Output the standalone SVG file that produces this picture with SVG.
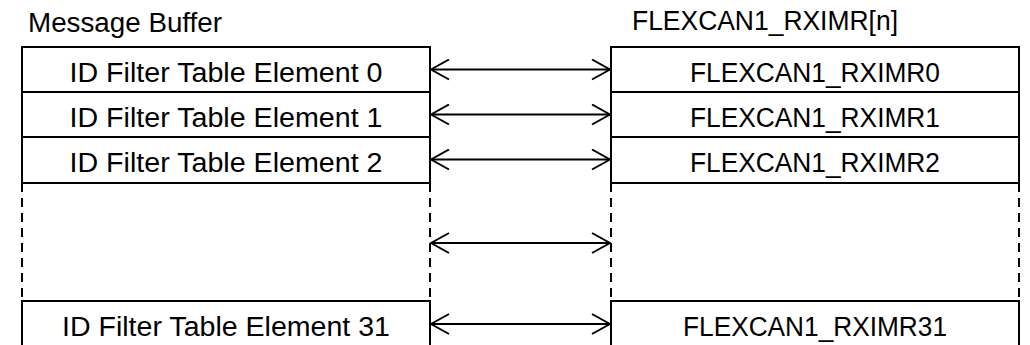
<svg xmlns="http://www.w3.org/2000/svg" width="1030" height="345" viewBox="0 0 1030 345">
<style>
.ln{stroke:#000;stroke-width:2;fill:none}
.dash{stroke:#000;stroke-width:2;fill:none;stroke-dasharray:9,6}
.t{font-family:"Liberation Sans",Arial,sans-serif;font-size:27px;fill:#000}
.c{text-anchor:middle}
.arr{stroke:#000;stroke-width:2;fill:none;marker-start:url(#ah);marker-end:url(#ah)}
</style>
<defs>
<marker id="ah" viewBox="0 0 20 22" refX="19" refY="11" markerWidth="20" markerHeight="22" markerUnits="userSpaceOnUse" orient="auto-start-reverse">
<path d="M1,1 L19,11 L1,21" stroke="#000" stroke-width="2" fill="none"/>
</marker>
</defs>
<rect width="1030" height="345" fill="#fff"/>
<g id="label-left"><text class="t" x="28" y="32" textLength="194" lengthAdjust="spacingAndGlyphs">Message Buffer</text></g>
<g id="label-right"><text class="t" x="632" y="30" textLength="266" lengthAdjust="spacingAndGlyphs">FLEXCAN1_RXIMR[n]</text></g>
<g id="mb-frame">
<path class="ln" d="M22,183 V47 H430 V183 M22,92 H430 M22,137 H430 M22,183 H430"/>
<path class="dash" d="M22,183 V301 M430,183 V301"/>
<path class="ln" d="M22,345 V301 H430 V345"/>
</g>
<g id="mb0"><text class="t c" x="226" y="82" textLength="313" lengthAdjust="spacingAndGlyphs">ID Filter Table Element 0</text></g>
<g id="mb1"><text class="t c" x="226" y="127" textLength="313" lengthAdjust="spacingAndGlyphs">ID Filter Table Element 1</text></g>
<g id="mb2"><text class="t c" x="226" y="172" textLength="313" lengthAdjust="spacingAndGlyphs">ID Filter Table Element 2</text></g>
<g id="mb31"><text class="t c" x="226" y="336" textLength="328" lengthAdjust="spacingAndGlyphs">ID Filter Table Element 31</text></g>
<g id="rx-frame">
<path class="ln" d="M611,183 V47 H1019 V183 M611,92 H1019 M611,137 H1019 M611,183 H1019"/>
<path class="dash" d="M611,183 V301 M1019,183 V301"/>
<path class="ln" d="M611,345 V301 H1019 V345"/>
</g>
<g id="rx0"><text class="t c" x="815" y="82" textLength="250" lengthAdjust="spacingAndGlyphs">FLEXCAN1_RXIMR0</text></g>
<g id="rx1"><text class="t c" x="815" y="127" textLength="250" lengthAdjust="spacingAndGlyphs">FLEXCAN1_RXIMR1</text></g>
<g id="rx2"><text class="t c" x="815" y="172" textLength="250" lengthAdjust="spacingAndGlyphs">FLEXCAN1_RXIMR2</text></g>
<g id="rx31"><text class="t c" x="815" y="336" textLength="264" lengthAdjust="spacingAndGlyphs">FLEXCAN1_RXIMR31</text></g>
<g id="connectors">
<line class="arr" x1="431" y1="69.5" x2="610" y2="69.5"/>
<line class="arr" x1="431" y1="114.5" x2="610" y2="114.5"/>
<line class="arr" x1="431" y1="159.5" x2="610" y2="159.5"/>
<line class="arr" x1="431" y1="243" x2="610" y2="243"/>
<line class="arr" x1="431" y1="324" x2="610" y2="324"/>
</g>
</svg>
